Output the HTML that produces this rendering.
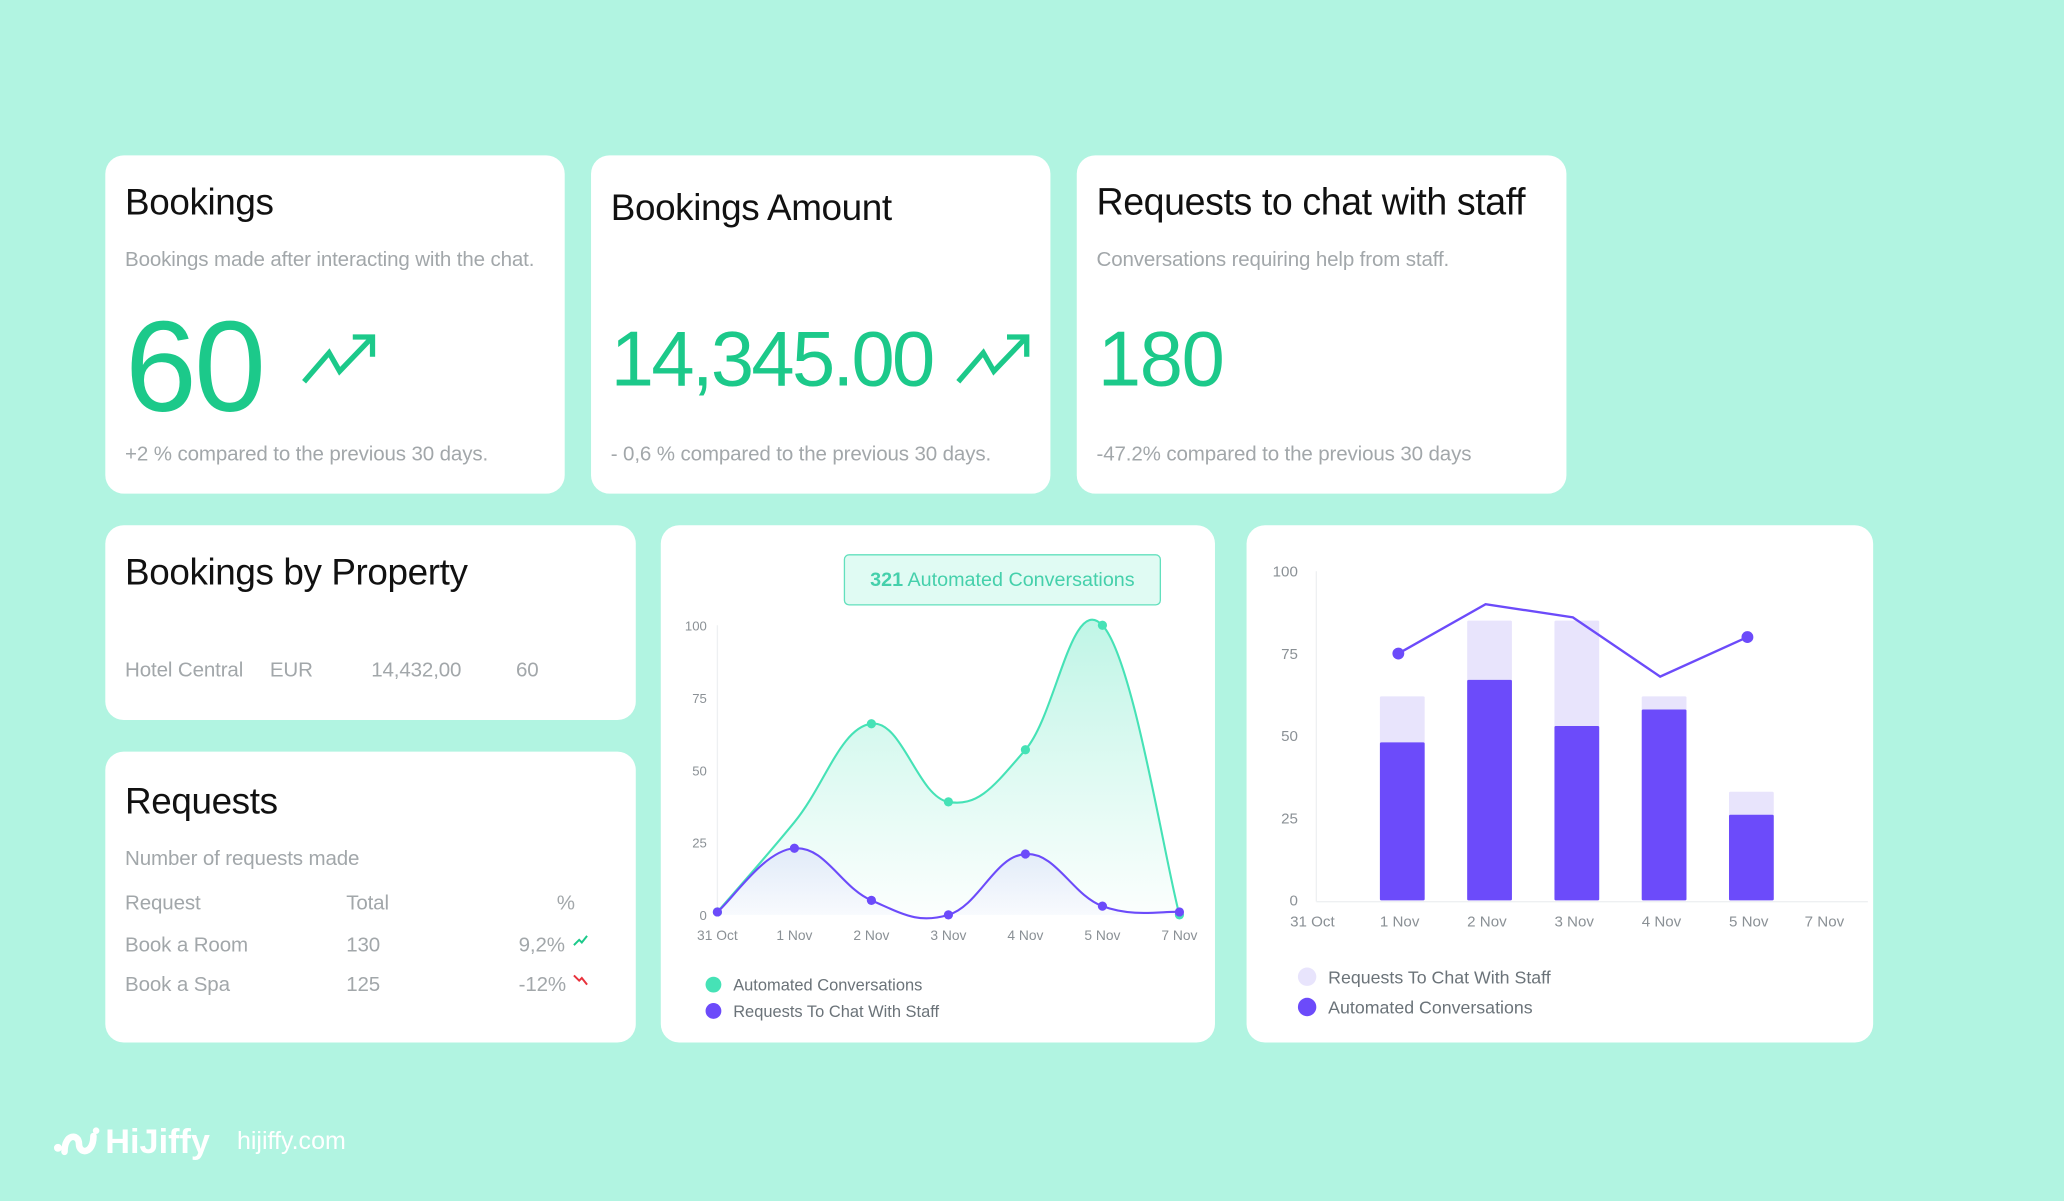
<!DOCTYPE html>
<html><head><meta charset="utf-8">
<style>
html,body{margin:0;padding:0;width:2064px;height:1200px;overflow:hidden;background:#b1f4e1;}
#wrap{position:absolute;left:0;top:0;width:1568px;height:912px;transform:scale(1.31633);transform-origin:0 0;font-family:"Liberation Sans",sans-serif;}
.card{position:absolute;background:#fff;border-radius:14px;}
.abs{position:absolute;white-space:nowrap;}
.title{font-size:28px;color:#111;letter-spacing:-0.3px;}
.sub{font-size:15.6px;color:#a2a7aa;letter-spacing:-0.1px;}
.big{color:#1cc98a;}
svg text{font-family:"Liberation Sans",sans-serif;}
</style></head><body>
<div id="wrap">

<div class="card" style="left:80px;top:118px;width:349px;height:257px">
  <div class="abs title" style="left:15px;top:20px">Bookings</div>
  <div class="abs sub" style="left:15px;top:71px">Bookings made after interacting with the chat.</div>
  <div class="abs big" style="left:15px;top:104px;font-size:98px;letter-spacing:-2px">60</div>
  <svg class="abs" style="left:148px;top:134px" width="60" height="42"><polyline points="3,38 22,16 30,30 54,5" fill="none" stroke="#1cc98a" stroke-width="4"/><polyline points="40,4 55,4 55,19" fill="none" stroke="#1cc98a" stroke-width="4"/></svg>
  <div class="abs sub" style="left:15px;top:219px">+2 % compared to the previous 30 days.</div>
</div>

<div class="card" style="left:449px;top:118px;width:349px;height:257px">
  <div class="abs title" style="left:15px;top:24px">Bookings Amount</div>
  <div class="abs big" style="left:15px;top:121px;font-size:59px;letter-spacing:-2px">14,345.00</div>
  <svg class="abs" style="left:276px;top:134px" width="60" height="42"><polyline points="3,38 22,16 30,30 54,5" fill="none" stroke="#1cc98a" stroke-width="4"/><polyline points="40,4 55,4 55,19" fill="none" stroke="#1cc98a" stroke-width="4"/></svg>
  <div class="abs sub" style="left:15px;top:219px">- 0,6 % compared to the previous 30 days.</div>
</div>

<div class="card" style="left:818px;top:118px;width:372px;height:257px">
  <div class="abs title" style="left:15px;top:20px;font-size:28.5px">Requests to chat with staff</div>
  <div class="abs sub" style="left:15px;top:71px">Conversations requiring help from staff.</div>
  <div class="abs big" style="left:16px;top:121px;font-size:59px;letter-spacing:-1px">180</div>
  <div class="abs sub" style="left:15px;top:219px">-47.2% compared to the previous 30 days</div>
</div>

<div class="card" style="left:80px;top:399px;width:403px;height:148px">
  <div class="abs title" style="left:15px;top:20px">Bookings by Property</div>
  <div class="abs sub" style="left:15px;top:102px">Hotel Central</div>
  <div class="abs sub" style="left:125px;top:102px">EUR</div>
  <div class="abs sub" style="left:202px;top:102px">14,432,00</div>
  <div class="abs sub" style="left:312px;top:102px">60</div>
</div>

<div class="card" style="left:80px;top:571px;width:403px;height:221px">
  <div class="abs title" style="left:15px;top:22px">Requests</div>
  <div class="abs sub" style="left:15px;top:73px">Number of requests made</div>
  <div class="abs sub" style="left:15px;top:107px">Request</div>
  <div class="abs sub" style="left:183px;top:107px">Total</div>
  <div class="abs sub" style="left:343px;top:107px">%</div>
  <div class="abs sub" style="left:15px;top:139px">Book a Room</div>
  <div class="abs sub" style="left:183px;top:139px">130</div>
  <div class="abs sub" style="left:314px;top:139px">9,2%</div>
  <svg class="abs" style="left:355px;top:139px" width="12" height="9"><polyline points="1,8 5,4 7,6 11,1" fill="none" stroke="#1cc98a" stroke-width="1.5"/></svg>
  <div class="abs sub" style="left:314px;top:169px">-12%</div>
  <div class="abs sub" style="left:15px;top:169px">Book a Spa</div>
  <div class="abs sub" style="left:183px;top:169px">125</div>
  <svg class="abs" style="left:355px;top:169px" width="12" height="9"><polyline points="1,1 5,5 7,3 11,8" fill="none" stroke="#e8323c" stroke-width="1.5"/></svg>
</div>

<div class="card" style="left:502px;top:399px;width:421px;height:393px">
  <div class="abs" style="left:139px;top:22px;width:239px;height:37px;background:#e0fbf3;border:1.5px solid #62e0bd;border-radius:4px;font-size:15px;color:#45d0ab;text-align:center;line-height:37px"><b>321</b> Automated Conversations</div>
  <svg id="lineChart" class="abs" style="left:0;top:0" width="421" height="393"></svg>
</div>

<div class="card" style="left:947px;top:399px;width:476px;height:393px">
  <svg id="barChart" class="abs" style="left:0;top:0" width="476" height="393"></svg>
</div>

<svg class="abs" style="left:40px;top:855px" width="36" height="28"><circle cx="4" cy="17" r="3" fill="#fff"/><path d="M9 20 C9 6, 20 6, 20 14 C20 22, 31 22, 31 8" fill="none" stroke="#fff" stroke-width="5" stroke-linecap="round"/><circle cx="33" cy="4" r="2.5" fill="#fff"/></svg>
<div class="abs" style="left:80px;top:852px;font-size:26px;font-weight:bold;color:#fff">HiJiffy</div>
<div class="abs" style="left:180px;top:857px;font-size:19px;color:#fff">hijiffy.com</div>
</div>

<script>
const NS='http://www.w3.org/2000/svg';
const lineCategories=['31 Oct','1 Nov','2 Nov','3 Nov','4 Nov','5 Nov','7 Nov'];
const automatedValues=[1,32,66,39,57,100,0];
const automatedDots=[true,false,true,true,true,true,true];
const staffValues=[1,23,5,0,21,3,1];
const lineTicks=[0,25,50,75,100];

const barCategories=['31 Oct','1 Nov','2 Nov','3 Nov','4 Nov','5 Nov','7 Nov'];
const barAutomated=[0,48,67,53,58,26,0];
const barStaffTotal=[0,62,85,85,62,33,0];
const barLineValues=[null,75,90,86,68,80,null];
const barTicks=[0,25,50,75,100];

function mk(parent,tag,attrs){const e=document.createElementNS(NS,tag);for(const k in attrs)e.setAttribute(k,attrs[k]);parent.appendChild(e);return e;}
function smooth(pts){let d='M'+pts[0][0]+','+pts[0][1];for(let i=0;i<pts.length-1;i++){const p0=pts[i-1]||pts[i],p1=pts[i],p2=pts[i+1],p3=pts[i+2]||p2;const t=0.2;d+=' C'+(p1[0]+(p2[0]-p0[0])*t)+','+(p1[1]+(p2[1]-p0[1])*t)+' '+(p2[0]-(p3[0]-p1[0])*t)+','+(p2[1]-(p3[1]-p1[1])*t)+' '+p2[0]+','+p2[1];}return d;}

(function(){
  const svg=document.getElementById('lineChart');
  const x=i=>43+i*(351/(lineCategories.length-1));
  const y=v=>296-v*2.2;
  const defs=mk(svg,'defs',{});
  const g1=mk(defs,'linearGradient',{id:'gT',x1:0,y1:0,x2:0,y2:1});
  mk(g1,'stop',{offset:'0','stop-color':'#4be3b8','stop-opacity':'0.35'});mk(g1,'stop',{offset:'1','stop-color':'#4be3b8','stop-opacity':'0.02'});
  const g2=mk(defs,'linearGradient',{id:'gP',x1:0,y1:0,x2:0,y2:1});
  mk(g2,'stop',{offset:'0','stop-color':'#6c4bfa','stop-opacity':'0.1'});mk(g2,'stop',{offset:'1','stop-color':'#6c4bfa','stop-opacity':'0.02'});
  const ax=mk(svg,'line',{x1:43,y1:76,x2:43,y2:297,stroke:'#eef0f2','stroke-width':1});
  
  
  lineTicks.forEach(t=>{const tx=mk(svg,'text',{x:35,y:y(t)+4,'text-anchor':'end','font-size':10,fill:'#8a9095'});tx.textContent=t;
    
    });
  lineCategories.forEach((c,i)=>{const tx=mk(svg,'text',{x:x(i),y:315,'text-anchor':'middle','font-size':10.5,fill:'#8a9095'});tx.textContent=c;
    
    });
  function series(vals,color,grad,dots,name){
    const pts=vals.map((v,i)=>[x(i),y(v)]);const d=smooth(pts);
    const a=mk(svg,'path',{d:d+' L'+x(vals.length-1)+','+y(0)+' L'+x(0)+','+y(0)+'Z',fill:'url(#'+grad+')'});
    
    
    const l=mk(svg,'path',{d:d,fill:'none',stroke:color,'stroke-width':1.6});
    
    
    pts.forEach((p,i)=>{if(dots&&!dots[i])return;const c=mk(svg,'circle',{cx:p[0],cy:p[1],r:3.5,fill:color});
      
      });
  }
  series(automatedValues,'#46e2b6','gT',automatedDots,'automated');
  series(staffValues,'#6c4bfa','gP',null,'staff');
  const leg=[['#46e2b6','Automated Conversations',349],['#6c4bfa','Requests To Chat With Staff',369]];
  leg.forEach(l=>{const c=mk(svg,'circle',{cx:40,cy:l[2],r:6,fill:l[0]});
    
    
    const t=mk(svg,'text',{x:55,y:l[2]+4.5,'font-size':12.5,fill:'#6b7379','font-weight':'500'});t.textContent=l[1];
    
    });
})();

(function(){
  const svg=document.getElementById('barChart');
  const tx_=i=>i<6?50+i*66.3:439;
  const x=i=>tx_(i)+2;
  const y=v=>285-v*2.5;
  const ax=mk(svg,'line',{x1:53,y1:35,x2:53,y2:286,stroke:'#eef0f2','stroke-width':1});
  
  
  const bx=mk(svg,'line',{x1:53,y1:286,x2:472,y2:286,stroke:'#eef0f2','stroke-width':1});
  
  
  barTicks.forEach(t=>{const tx=mk(svg,'text',{x:39,y:y(t)+4,'text-anchor':'end','font-size':11.5,fill:'#8a9095'});tx.textContent=t;
    
    });
  barCategories.forEach((c,i)=>{const tx=mk(svg,'text',{x:tx_(i),y:305,'text-anchor':'middle','font-size':11.5,fill:'#8a9095'});tx.textContent=c;
    
    });
  barCategories.forEach((c,i)=>{
    if(barStaffTotal[i]>0){const r=mk(svg,'rect',{x:x(i)-17,y:y(barStaffTotal[i]),width:34,height:y(0)-y(barStaffTotal[i]),fill:'#e8e4fc',rx:1});
      
      }
    if(barAutomated[i]>0){const r=mk(svg,'rect',{x:x(i)-17,y:y(barAutomated[i]),width:34,height:y(0)-y(barAutomated[i]),fill:'#6c4bfa',rx:1});
      
      }
  });
  const pts=[];barLineValues.forEach((v,i)=>{if(v!==null)pts.push([x(i)-3,y(v)]);});
  const pl=mk(svg,'polyline',{points:pts.map(p=>p.join(',')).join(' '),fill:'none',stroke:'#6c4bfa','stroke-width':1.8});
  
  
  [pts[0],pts[pts.length-1]].forEach(p=>{const c=mk(svg,'circle',{cx:p[0],cy:p[1],r:4.5,fill:'#6c4bfa'});
    
    });
  const leg=[['#e8e4fc','Requests To Chat With Staff',343],['#6c4bfa','Automated Conversations',366]];
  leg.forEach(l=>{const c=mk(svg,'circle',{cx:46,cy:l[2],r:7,fill:l[0]});
    
    
    const t=mk(svg,'text',{x:62,y:l[2]+5,'font-size':13.5,fill:'#6b7379','font-weight':'500'});t.textContent=l[1];
    
    });
})();
</script>
</body></html>
